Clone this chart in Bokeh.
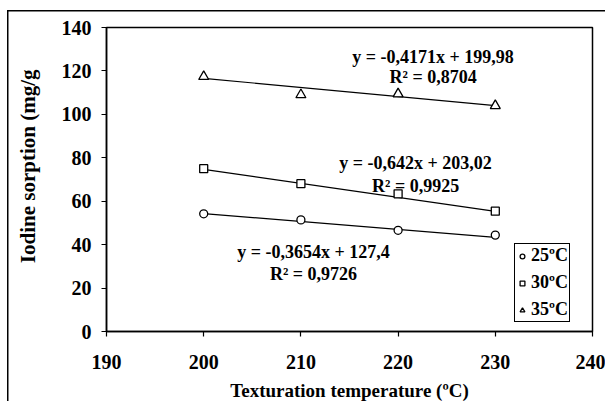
from bokeh.plotting import figure
from bokeh.models import Range1d, FixedTicker, Label, Legend, LegendItem
from bokeh.embed import file_html
from bokeh.resources import INLINE
import numpy as np

# ---- data ----
temps = [200, 210, 220, 230]
s25 = [54.2, 51.4, 46.6, 44.4]
s30 = [75.0, 68.1, 63.4, 55.4]
s35 = [117.4, 109.0, 109.4, 104.0]
slopes = [-0.3654, -0.642, -0.4171]
intercepts = [127.4, 203.02, 199.98]
eq_texts = ["y = -0,3654x + 127,4", "y = -0,642x + 203,02", "y = -0,4171x + 199,98"]
r2_texts = ["R\u00b2 = 0,9726", "R\u00b2 = 0,9925", "R\u00b2 = 0,8704"]
eq_pos = [(211.3, 36.4, 26.7), (221.8, 77.4, 67.2), (223.6, 126.2, 117.0)]
legend_labels = ["25ºC", "30ºC", "35ºC"]
x_ticks = [190, 200, 210, 220, 230, 240]
y_ticks = [0, 20, 40, 60, 80, 100, 120, 140]

FONT = "Liberation Serif"

p = figure(frame_width=486, frame_height=304, min_border_left=106, min_border_top=27,
           min_border_right=13, min_border_bottom=70,
           x_range=Range1d(190, 240), y_range=Range1d(0, 140),
           output_backend="svg", toolbar_location=None)
p.background_fill_color = "white"
p.border_fill_color = None
p.outline_line_color = "black"
p.outline_line_width = 1.5
p.outline_line_alpha = 1
p.xgrid.visible = False
p.ygrid.visible = False
# outer chart border (left and top edges of the chart area)
p.styles = {
    "background-color": "white",
    "background-image": "linear-gradient(black, black), linear-gradient(black, black)",
    "background-position": "7px 10px, 7px 10px",
    "background-size": "1.5px 100%, 100% 1.5px",
    "background-repeat": "no-repeat",
}

for ax in (p.xaxis[0], p.yaxis[0]):
    ax.major_label_text_font = FONT
    ax.major_label_text_font_style = "bold"
    ax.major_label_text_font_size = "20px"
    ax.major_label_text_color = "black"
    ax.axis_label_text_font = FONT
    ax.axis_label_text_font_style = "bold"
    ax.axis_label_text_font_size = "19px"
    ax.axis_label_text_color = "black"
    ax.axis_line_color = "black"
    ax.axis_line_width = 1.5
    ax.major_tick_line_color = "black"
    ax.major_tick_line_width = 1.2
    ax.major_tick_out = 5
    ax.major_tick_in = 0
    ax.minor_tick_line_color = None

p.xaxis[0].ticker = FixedTicker(ticks=x_ticks)
p.yaxis[0].ticker = FixedTicker(ticks=y_ticks)
p.xaxis[0].axis_label = "Texturation temperature (ºC)"
p.yaxis[0].axis_label = "\u00a0\u00a0\u00a0\u00a0\u00a0Iodine sorption (mg/g"
p.yaxis[0].axis_label_text_font_size = "21px"
p.xaxis[0].major_label_standoff = 18
p.xaxis[0].axis_label_standoff = 8
p.yaxis[0].major_label_standoff = 10
p.yaxis[0].axis_label_standoff = 19

# trend lines
tx = np.array([temps[0], temps[-1]], dtype=float)
for m, b in zip(slopes, intercepts):
    p.line(tx, m * tx + b, line_color="black", line_width=1.2)

markers = ["circle", "square", "triangle"]
series = [s25, s30, s35]
sizes = [8, 8, 10]
items = []
for s, mk, lab, sz in zip(series, markers, legend_labels, sizes):
    r = p.scatter(temps, s, marker=mk, size=sz, fill_color="white",
                  line_color="black", line_width=1.3)
    items.append(LegendItem(label=lab, renderers=[r]))

legend = Legend(items=items, location=(408, 9))
legend.label_text_font = FONT
legend.label_text_font_style = "bold"
legend.label_text_font_size = "18px"
legend.label_text_color = "black"
legend.border_line_color = "black"
legend.border_line_width = 1
legend.border_line_alpha = 1
legend.background_fill_color = "white"
legend.background_fill_alpha = 1
legend.glyph_width = 12
legend.glyph_height = 14
legend.label_height = 14
legend.label_standoff = 3
legend.padding = 1
legend.spacing = 6
legend.margin = 0
p.add_layout(legend, "center")

for (xc, y1, y2), t1, t2 in zip(eq_pos, eq_texts, r2_texts):
    for yy, tt in ((y1, t1), (y2, t2)):
        p.add_layout(Label(x=xc, y=yy, text=tt, text_align="center",
                           text_baseline="middle", text_font=FONT,
                           text_font_style="bold", text_font_size="18px",
                           text_color="black"))

open("out.html", "w").write(file_html(p, INLINE))
